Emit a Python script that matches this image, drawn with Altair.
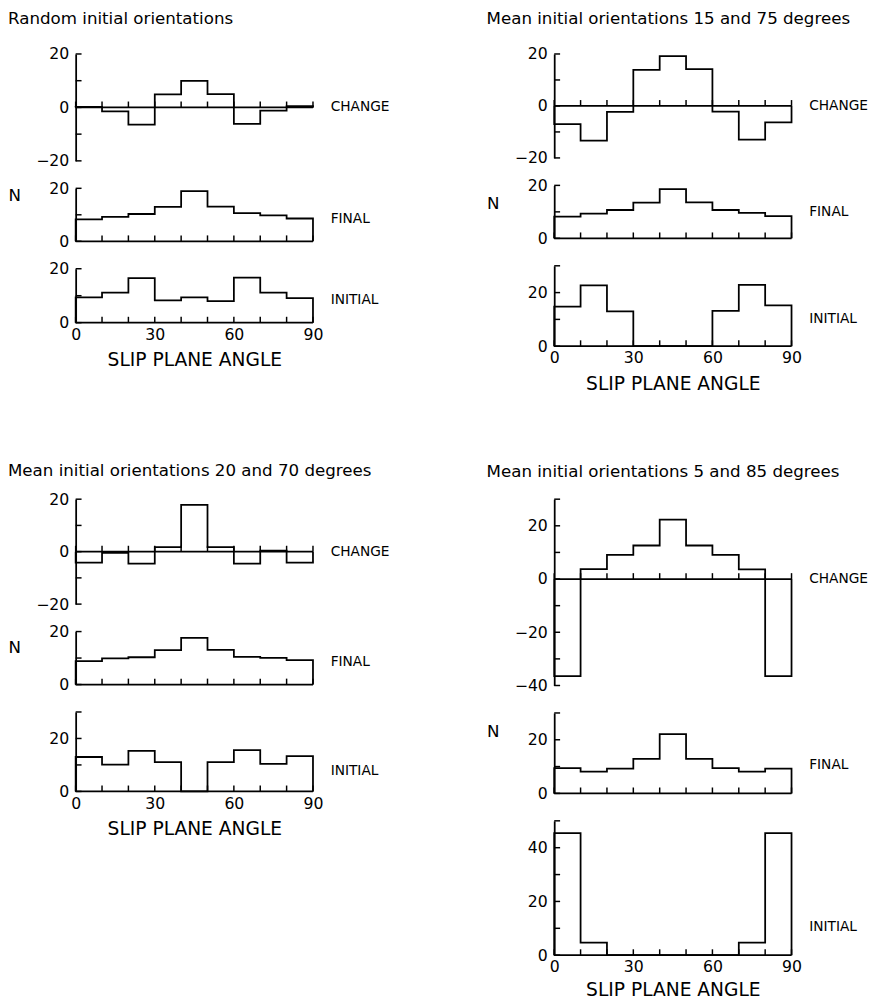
import altair as alt
import pandas as pd

FONT = "DejaVu Sans"

# ---- data ----
BIN_LEFT = [0, 10, 20, 30, 40, 50, 60, 70, 80]
ANGLE_MAX = 90
X_TICKS = [0, 10, 20, 30, 40, 50, 60, 70, 80, 90]
X_LABELS = [0, 30, 60, 90]

TITLES = [
    "Random initial orientations",
    "Mean initial orientations 15 and 75 degrees",
    "Mean initial orientations 20 and 70 degrees",
    "Mean initial orientations 5 and 85 degrees",
]

change_random = [0.2, -1.5, -6.4, 4.9, 9.9, 5.0, -6.2, -1.2, 0.5]
final_random = [8.3, 9.2, 10.3, 13.0, 18.9, 13.1, 10.6, 9.8, 8.6]
initial_random = [9.4, 11.1, 16.5, 8.3, 9.4, 8.0, 16.7, 11.1, 9.1]

change_15_75 = [-7.0, -13.3, -2.3, 13.9, 19.2, 14.2, -2.2, -13.0, -6.3]
final_15_75 = [8.2, 9.3, 10.7, 13.5, 18.6, 13.6, 10.7, 9.6, 8.4]
initial_15_75 = [14.8, 22.7, 13.0, 0, 0, 0, 13.2, 22.9, 15.2]

change_20_70 = [-4.2, -0.5, -4.6, 1.7, 17.8, 1.7, -4.6, 0.4, -4.2]
final_20_70 = [8.8, 9.9, 10.3, 13.0, 17.6, 13.1, 10.4, 10.1, 9.2]
initial_20_70 = [13.0, 10.1, 15.3, 11.1, 0, 11.1, 15.6, 10.4, 13.3]

change_5_85 = [-36.5, 3.7, 9.1, 12.6, 22.3, 12.6, 9.1, 3.6, -36.5]
final_5_85 = [9.4, 8.1, 9.2, 12.9, 22.1, 12.9, 9.4, 8.1, 9.2]
initial_5_85 = [45.4, 4.7, 0, 0, 0, 0, 0, 4.7, 45.4]

# ---- layout / style settings per panel ----
PANELS = [
    dict(title=TITLES[0], change=change_random, final=final_random, initial=initial_random,
         dom=[(-20, 20), (0, 20), (0, 20)], h=[109, 54, 55], lab_y=[0, 8.3, 8.5],
         toff=19, n_y=-1, xpad=9),
    dict(title=TITLES[1], change=change_15_75, final=final_15_75, initial=initial_15_75,
         dom=[(-20, 20), (0, 20), (0, 30)], h=[106, 54, 82], lab_y=[0, 10, 10],
         toff=19, n_y=11, xpad=9),
    dict(title=TITLES[2], change=change_20_70, final=final_20_70, initial=initial_20_70,
         dom=[(-20, 20), (0, 20), (0, 30)], h=[107, 54, 81], lab_y=[0, 8.3, 7.5],
         toff=12, n_y=8, xpad=9),
    dict(title=TITLES[3], change=change_5_85, final=final_5_85, initial=initial_5_85,
         dom=[(-40, 30), (0, 30), (0, 50)], h=[190, 82, 137], lab_y=[0, 10.5, 10.4],
         toff=16, n_y=11, xpad=6),
]

PLOT_W = 242
LW = 1.8


def step_frame(values):
    xs = [0] + BIN_LEFT + [ANGLE_MAX, ANGLE_MAX]
    ys = [0] + list(values) + [values[-1], 0]
    return pd.DataFrame({"x": xs, "y": ys, "i": list(range(len(xs)))})


def subplot(values, domain, height, label, label_y, xpad=None, n_y=None):
    x_scale = alt.Scale(domain=[0, ANGLE_MAX], nice=False, zero=False)
    y_scale = alt.Scale(domain=list(domain), nice=False, zero=False)
    y_ticks = list(range(domain[0], domain[1] + 1, 10))

    if xpad is not None:
        xa = alt.Axis(values=X_LABELS, labelFlush=False, domain=False, ticks=False, grid=False,
                      labelFontSize=16, labelPadding=4, labelColor="black", labelFont=FONT,
                      title="SLIP PLANE ANGLE", titleFontSize=19, titleFontWeight="normal",
                      titleFont=FONT, titleColor="black", titlePadding=xpad)
    else:
        xa = None

    ya_kw = dict(values=y_ticks, labelExpr="datum.value % 20 === 0 ? datum.label : ''",
                 ticks=False, grid=False, domainColor="black", domainWidth=LW,
                 labelFontSize=16, labelPadding=7, labelColor="black", labelFont=FONT)
    if n_y is not None:
        ya = alt.Axis(title="N", titleAngle=0, titleX=-69, titleY=n_y, titleAlign="left",
                      titleBaseline="top", titleFontSize=17, titleFontWeight="normal",
                      titleFont=FONT, titleColor="black", **ya_kw)
    else:
        ya = alt.Axis(title=None, **ya_kw)

    X = alt.X("x:Q", scale=x_scale, axis=xa)
    Y = alt.Y("y:Q", scale=y_scale, axis=ya)

    line = alt.Chart(step_frame(values)).mark_line(
        interpolate="step-after", color="black", strokeWidth=LW
    ).encode(x=X, y=Y, order="i:Q")

    zero = alt.Chart(pd.DataFrame({"y": [0]})).mark_rule(
        color="black", strokeWidth=LW
    ).encode(y=Y)

    # small inward tick marks: upward on the zero line, rightward on the y axis
    xt = alt.Chart(pd.DataFrame({"x": X_TICKS, "y": [0] * len(X_TICKS)})).mark_point(
        shape="M0,0L0,-1", size=144, filled=False, color="black", strokeWidth=1.5, opacity=1
    ).encode(x=X, y=Y)

    yt = alt.Chart(pd.DataFrame({"x": [0] * len(y_ticks), "y": y_ticks})).mark_point(
        shape="M0,0L1,0", size=144, filled=False, color="black", strokeWidth=1.5, opacity=1
    ).encode(x=X, y=Y)

    lab = alt.Chart(pd.DataFrame({"x": [ANGLE_MAX], "y": [label_y], "t": [label]})).mark_text(
        align="left", baseline="middle", dx=18, fontSize=14, font=FONT, color="black"
    ).encode(x=X, y=Y, text="t:N")

    return alt.layer(line, zero, xt, yt, lab).properties(width=PLOT_W, height=height)


def panel(p):
    c = subplot(p["change"], p["dom"][0], p["h"][0], "CHANGE", p["lab_y"][0])
    f = subplot(p["final"], p["dom"][1], p["h"][1], "FINAL", p["lab_y"][1], n_y=p["n_y"])
    i = subplot(p["initial"], p["dom"][2], p["h"][2], "INITIAL", p["lab_y"][2], xpad=p["xpad"])
    return alt.vconcat(
        c, f, i, spacing=28, bounds="flush",
        title=alt.TitleParams(p["title"], anchor="start", fontSize=17, font=FONT,
                              fontWeight="normal", color="black", offset=p["toff"]),
    )


chart = alt.concat(
    *[panel(p) for p in PANELS],
    columns=2,
    align="each",
    spacing=alt.RowColnumber(row=70, column=98),
).properties(
    padding={"left": 0, "top": -8, "right": 0, "bottom": 0}
).configure_view(strokeWidth=0)

chart.save("out.html", embed_options={"renderer": "svg", "actions": False})
